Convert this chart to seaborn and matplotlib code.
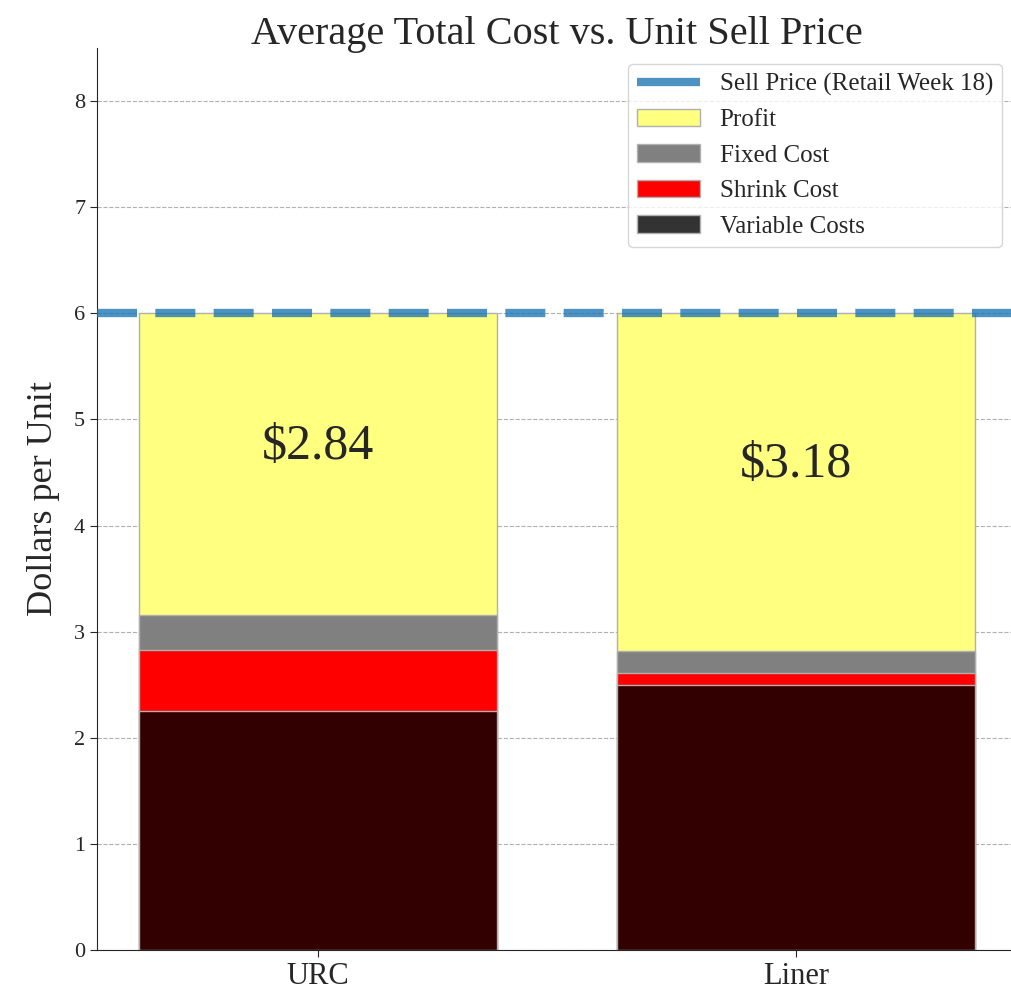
import pandas as pd
import numpy as np
import matplotlib
matplotlib.use("Agg")
import matplotlib.pyplot as plt
import seaborn as sns
from matplotlib.patches import Patch
from matplotlib.lines import Line2D

# data
products = ["URC", "Liner"]
variable_costs = [2.25, 2.50]
shrink_cost = [0.58, 0.11]
fixed_cost = [0.33, 0.21]
sell_price = 6.0
profit_labels = ["$2.84", "$3.18"]

sns.set_style("white")
plt.rcParams["font.family"] = ["Liberation Serif", "DejaVu Serif"]

df = pd.DataFrame({"Product": products,
                   "Variable": variable_costs,
                   "Shrink": shrink_cost,
                   "Fixed": fixed_cost})
df["VarShrink"] = df["Variable"] + df["Shrink"]
df["Total"] = df["VarShrink"] + df["Fixed"]
df["Price"] = sell_price

fig = plt.figure(figsize=(10.11, 9.94), dpi=100)
ax = fig.add_axes([97 / 1011, 44 / 994, 920 / 1011, 902 / 994])

edge = "#b0b0b0"
# tallest first, smaller layers drawn on top
sns.barplot(data=df, x="Product", y="Price", color="#ffff80", edgecolor=edge,
            linewidth=1, width=0.75, saturation=1, ax=ax)
sns.barplot(data=df, x="Product", y="Total", color="#808080", edgecolor=edge,
            linewidth=1, width=0.75, saturation=1, ax=ax)
sns.barplot(data=df, x="Product", y="VarShrink", color="#ff0000", edgecolor=edge,
            linewidth=1, width=0.75, saturation=1, ax=ax)
sns.barplot(data=df, x="Product", y="Variable", color="#330000", edgecolor=edge,
            linewidth=1, width=0.75, saturation=1, ax=ax)

ax.axhline(sell_price, color="#1f77b4", alpha=0.8, linewidth=6,
           linestyle=(0, (4.8, 2.2)), zorder=5)

for i, row in df.iterrows():
    mid = (row["Total"] + row["Price"]) / 2
    ax.text(i, mid + 0.16, profit_labels[i], ha="center", va="center", fontsize=36)

ax.set_ylim(0, 8.5)
ax.set_xlim(-0.4625, 1.4625)
ax.set_yticks(range(0, 9))
ax.yaxis.grid(True, linestyle="--", color="#b0b0b0", linewidth=0.8)
ax.set_axisbelow(True)
sns.despine(ax=ax)
ax.tick_params(axis="y", labelsize=16, left=True, length=5)
ax.tick_params(axis="x", labelsize=22, bottom=True, length=5)
ax.set_xlabel("")
ax.set_ylabel("Dollars per Unit", fontsize=26, labelpad=10)
ax.set_title("Average Total Cost vs. Unit Sell Price", fontsize=29, pad=3)

handles = [Line2D([0], [0], color="#1f77b4", alpha=0.8, linewidth=6, solid_capstyle="butt"),
           Patch(facecolor="#ffff80", edgecolor=edge),
           Patch(facecolor="#808080", edgecolor=edge),
           Patch(facecolor="#ff0000", edgecolor=edge),
           Patch(facecolor="#333333", edgecolor=edge)]
labels = ["Sell Price (Retail Week 18)", "Profit", "Fixed Cost", "Shrink Cost", "Variable Costs"]
ax.legend(handles, labels, loc="upper right", bbox_to_anchor=(0.997, 0.996), fontsize=18,
          frameon=True, handlelength=2.5, labelspacing=0.52, borderpad=0.35)

fig.savefig("out.png", dpi=100)
